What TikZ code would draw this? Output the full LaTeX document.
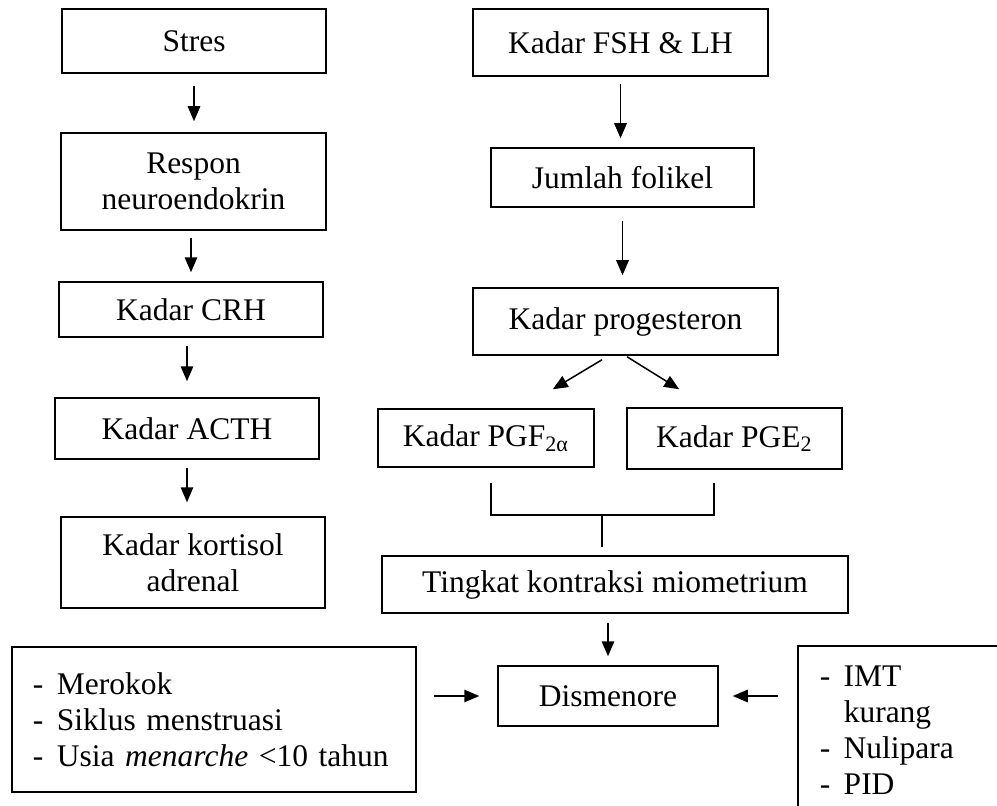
\documentclass[tikz,border=0pt]{standalone}
\usepackage{fontspec}
\setmainfont{Liberation Serif}
\usetikzlibrary{arrows.meta}
\newcommand{\poin}{\makebox[9.6pt][l]{-}}

\begin{document}
\begin{tikzpicture}[x=0.4pt, y=-0.4pt, line width=0.6pt, >={Triangle[length=6pt,width=5pt]},
  box/.style={rectangle, draw, align=center, inner sep=2pt, font=\fontsize{12.6}{14.4}\selectfont},
  list/.style={rectangle, draw, align=left, inner xsep=8.4pt, font=\fontsize{12.6}{14.4}\selectfont},
  link/.style={->, shorten <=3.6pt, shorten >=3.6pt}]
  \useasboundingbox (0,0) rectangle (997,805);

  \node[box, minimum width=105.6pt, minimum height=25.6pt] (stres) at (194,41) {Stres};
  \node[box, minimum width=106pt, minimum height=38.8pt] (respon) at (193.5,181.5) {Respon\\neuroendokrin};
  \node[box, minimum width=105.6pt, minimum height=22pt] (crh) at (191,309.5) {Kadar CRH};
  \node[box, minimum width=105.6pt, minimum height=24.4pt] (acth) at (187,428.5) {Kadar ACTH};
  \node[box, minimum width=105.6pt, minimum height=36.4pt] (kortisol) at (193,562.5) {Kadar kortisol\\adrenal};

  \node[box, minimum width=118pt, minimum height=26.8pt] (fsh) at (620.5,42.5) {Kadar FSH \& LH};
  \node[box, minimum width=105.2pt, minimum height=23.6pt] (folikel) at (622.5,177.5) {Jumlah folikel};
  \node[box, minimum width=122pt, minimum height=26.8pt] (prog) at (625.5,321.5) {Kadar progesteron};
  \node[box, minimum width=86.4pt, minimum height=23.2pt] (pgf) at (486,438) {Kadar PGF\textsubscript{2α}};
  \node[box, minimum width=86pt, minimum height=24.4pt] (pge) at (734.5,438.5) {Kadar PGE\textsubscript{2}};
  \node[box, minimum width=186.4pt, minimum height=22.8pt] (tingkat) at (615,584.5) {Tingkat kontraksi miometrium};
  \node[box, minimum width=88pt, minimum height=24pt] (dis) at (608,696) {Dismenore};

  \node[list, text width=144.8pt, minimum height=58pt] (faktorkiri) at (214,719.5)
    {\poin Merokok\\\poin Siklus menstruasi\\\poin Usia \textit{menarche} <10 tahun};
  \node[list, anchor=north west, text width=100pt, inner xsep=8.8pt, inner ysep=8pt] (faktorkanan) at (797,645)
    {\poin IMT\\\hspace*{9.6pt}kurang\\\poin Nulipara\\\poin PID};

  \coordinate (kiri) at (491,483);
  \coordinate (kanan) at (714,483);
  \coordinate (tengah) at (602,515);
  \coordinate (bawah) at (602,547);

  \draw[link, shorten <=4.8pt, shorten >=4.4pt] (stres.south) -- (stres.south |- respon.north);
  \draw[link, shorten <=2.8pt, shorten >=3.6pt] (respon.south -| crh) -- (crh.north);
  \draw[link, shorten <=3.2pt, shorten >=6.4pt] (crh.south -| acth) -- (acth.north);
  \draw[link, shorten <=3.2pt, shorten >=5.6pt] (acth.south) -- (acth.south |- kortisol.north);
  \draw[link, shorten <=2.8pt, shorten >=3.6pt] (fsh.south) -- (fsh.south |- folikel.north);
  \draw[link, shorten <=5.2pt, shorten >=4.8pt] (folikel.south) -- (folikel.south |- prog.north);
  \draw[->] ([xshift=-9.4pt,yshift=-1.6pt]prog.south) -- ([xshift=-16.8pt,yshift=7.6pt]pgf.north east);
  \draw[->] ([xshift=0.6pt,yshift=-0.4pt]prog.south) -- ([xshift=21.2pt,yshift=7.2pt]pge.north west);
  \draw (kiri) |- (tengah) -| (kanan);
  \draw (tengah) -- (bawah);
  \draw[link] (dis.north |- tingkat.south) -- (dis.north);
  \draw[link, shorten <=6.8pt, shorten >=7.2pt] (faktorkiri.east |- dis.west) -- (dis.west);
  \draw[link, shorten <=7.6pt, shorten >=5.6pt] (faktorkanan.west |- dis.east) -- (dis.east);
\end{tikzpicture}
\end{document}
